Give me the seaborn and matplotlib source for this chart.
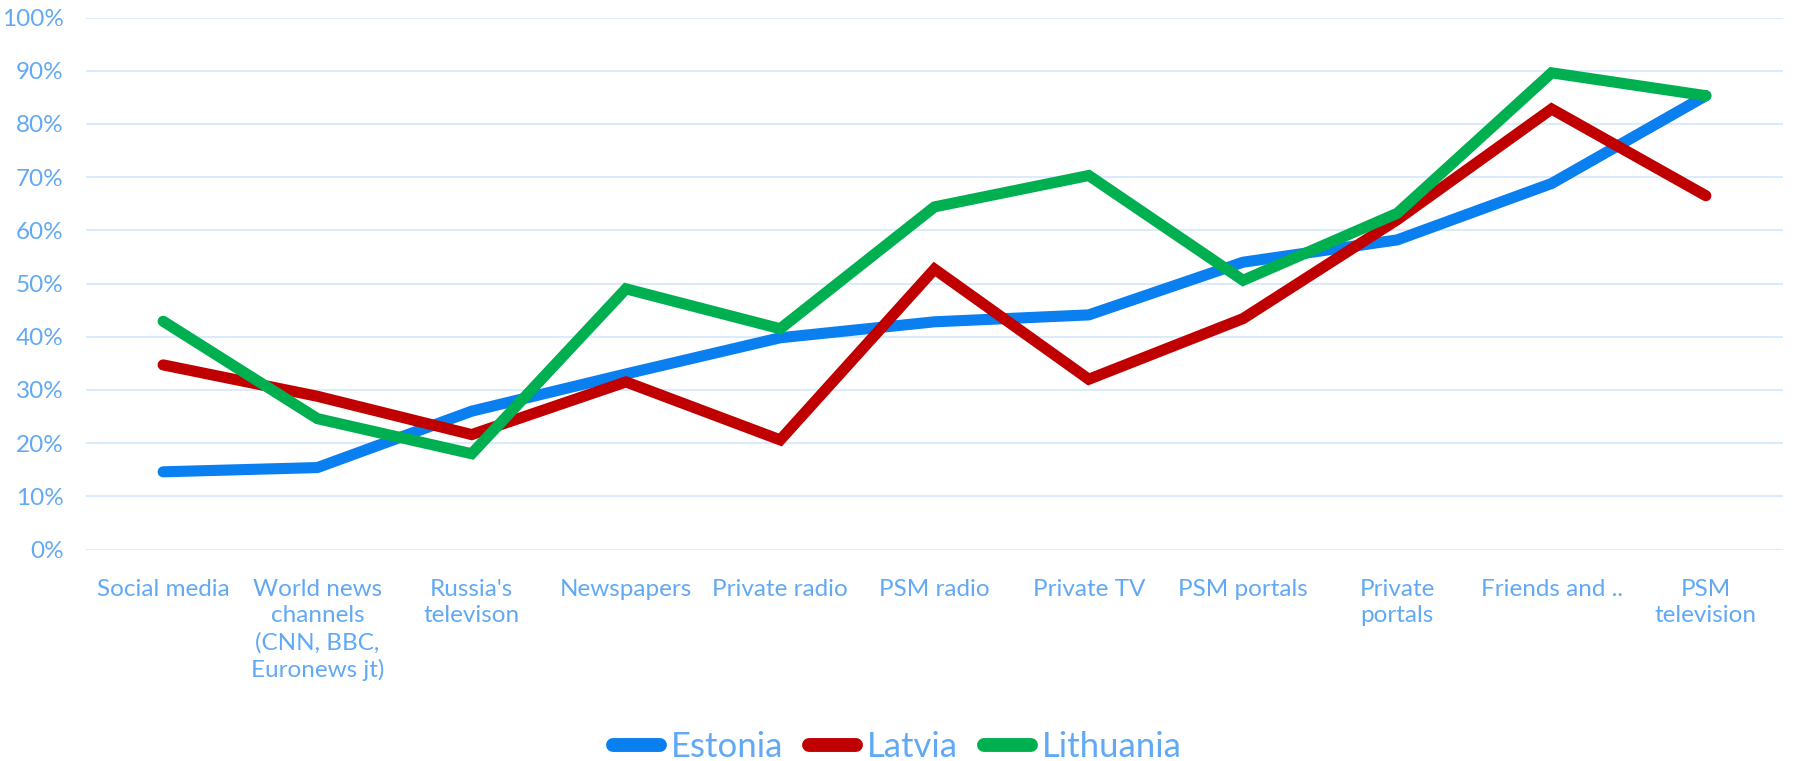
import matplotlib
matplotlib.use("Agg")
import matplotlib.pyplot as plt
import seaborn as sns
import pandas as pd
from matplotlib.ticker import PercentFormatter

categories = ["Social media", "World news\nchannels\n(CNN, BBC,\nEuronews jt)", "Russia's\ntelevison",
              "Newspapers", "Private radio", "PSM radio", "Private TV", "PSM portals",
              "Private\nportals", "Friends and ..", "PSM\ntelevision"]
estonia = [14.6, 15.4, 26.0, 33.0, 39.8, 42.8, 44.1, 54.0, 58.2, 68.8, 85.3]
latvia = [34.7, 28.8, 21.6, 31.5, 20.6, 52.7, 32.0, 43.4, 62.0, 82.8, 66.5]
lithuania = [42.9, 24.6, 18.0, 49.0, 41.5, 64.4, 70.3, 50.6, 63.2, 89.6, 85.3]
countries = ["Estonia", "Latvia", "Lithuania"]
colors = ["#0A7FF0", "#C00000", "#00B050"]

rows = []
for name, vals in zip(countries, [estonia, latvia, lithuania]):
    for i, v in enumerate(vals):
        rows.append({"x": i, "value": v, "country": name})
df = pd.DataFrame(rows)

sns.set_theme(style="white")
plt.rcParams["font.family"] = ["Lato", "DejaVu Sans"]
text_color = "#62A9F5"

fig = plt.figure(figsize=(17.95, 7.61), dpi=100)
ax = fig.add_axes([86/1795, 211.5/761, (1783-86)/1795, (743.5-211.5)/761])
sns.lineplot(data=df, x="x", y="value", hue="country", palette=colors, linewidth=8,
             ax=ax, legend=True, sort=False)
for ln in ax.get_lines():
    ln.set_solid_capstyle("round")
    ln.set_solid_joinstyle("miter")

ax.set_xlim(-0.5, len(categories) - 0.5)
ax.set_ylim(0, 100)
ax.set_yticks(range(0, 101, 10))
ax.yaxis.set_major_formatter(PercentFormatter(decimals=0))
ax.set_xticks(range(len(categories)))
ax.set_xticklabels(categories, linespacing=1.32)
ax.tick_params(axis="both", colors=text_color, labelsize=17.5, length=0)
ax.tick_params(axis="y", pad=16)
ax.tick_params(axis="x", pad=21)
for lab in ax.get_xticklabels() + ax.get_yticklabels():
    lab.set_color(text_color)
ax.grid(axis="y", color="#DCEBFB", linewidth=1.5)
ax.grid(axis="x", visible=False)
for s in ax.spines.values():
    s.set_visible(False)
ax.set_xlabel("")
ax.set_ylabel("")

handles, labels = ax.get_legend_handles_labels()
for h in handles:
    h.set_solid_capstyle("round")
    h.set_linewidth(10)
leg = ax.legend(handles, labels, loc="center", bbox_to_anchor=(0.5, 14/761),
                bbox_transform=fig.transFigure, ncol=3, frameon=False,
                fontsize=25, handlelength=1.35, handletextpad=0.32, columnspacing=0.75)
for t in leg.get_texts():
    t.set_color(text_color)

fig.savefig("out.png", dpi=100, facecolor="white")
